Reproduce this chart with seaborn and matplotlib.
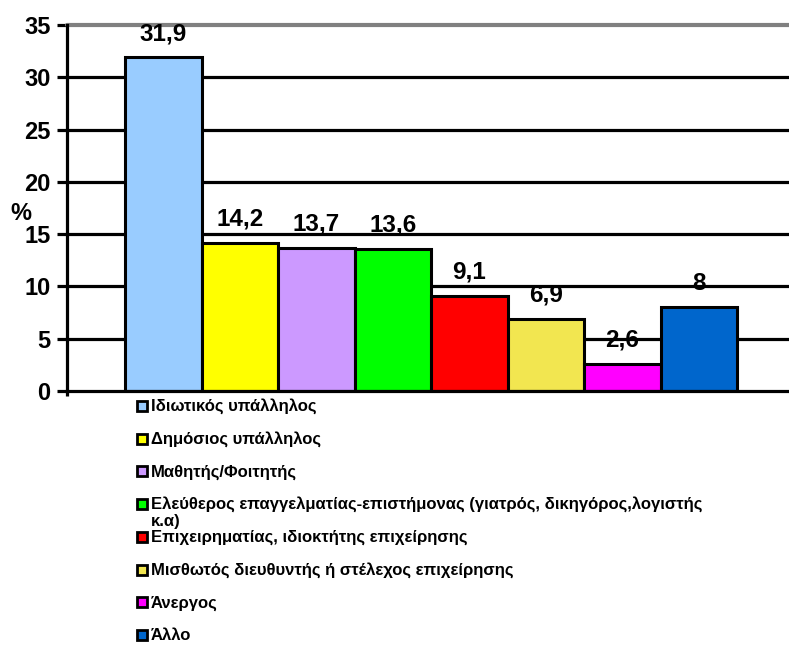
import matplotlib
matplotlib.use("Agg")
import matplotlib.pyplot as plt
from matplotlib.patches import Rectangle
import seaborn as sns
import pandas as pd

categories = [
    "Ιδιωτικός υπάλληλος",
    "Δημόσιος υπάλληλος",
    "Μαθητής/Φοιτητής",
    "Ελεύθερος επαγγελματίας-επιστήμονας (γιατρός, δικηγόρος,λογιστής\nκ.α)",
    "Επιχειρηματίας, ιδιοκτήτης επιχείρησης",
    "Μισθωτός διευθυντής ή στέλεχος επιχείρησης",
    "Άνεργος",
    "Άλλο",
]
values = [31.9, 14.2, 13.7, 13.6, 9.1, 6.9, 2.6, 8]
value_labels = ["31,9", "14,2", "13,7", "13,6", "9,1", "6,9", "2,6", "8"]
colors = ["#99CCFF", "#FFFF00", "#CC99FF", "#00FF00",
          "#FF0000", "#F2E650", "#FF00FF", "#0066CC"]
y_ticks = [0, 5, 10, 15, 20, 25, 30, 35]

sns.set_style("white")
plt.rcParams["font.family"] = ["Liberation Sans", "DejaVu Sans"]
plt.rcParams["font.weight"] = "bold"
plt.rcParams["text.color"] = "black"
plt.rcParams["ytick.labelcolor"] = "black"

W, H = 789, 647
fig = plt.figure(figsize=(W / 100, H / 100), dpi=100)
ax = fig.add_axes([67 / W, 1 - 391 / H, 1 - 67 / W, (391 - 25) / H])

df = pd.DataFrame({"cat": categories, "val": values})
sns.barplot(data=df, x="cat", y="val", hue="cat", order=categories,
            hue_order=categories, palette=colors, saturation=1, width=1.0,
            edgecolor="black", linewidth=2.2, legend=False, ax=ax,
            zorder=3)

ax.set_xlim(-1.26, 8.18)
ax.set_ylim(0, 35)
ax.set_yticks(y_ticks)
ax.set_yticklabels([str(t) for t in y_ticks], fontsize=17, fontweight="bold",
                   color="black")
ax.set_xticks([])
ax.set_xlabel("")
ax.set_ylabel("")

# horizontal gridlines: black, with a grey line at the top
for t in y_ticks[1:-1]:
    ax.axhline(t, color="black", lw=2.3, zorder=1)
ax.axhline(35, color="#808080", lw=3.0, zorder=1, clip_on=False)

for s in ["top", "right"]:
    ax.spines[s].set_visible(False)
for s in ["left", "bottom"]:
    ax.spines[s].set_linewidth(2.3)
    ax.spines[s].set_color("black")
    ax.spines[s].set_zorder(5)
ax.tick_params(axis="y", direction="out", length=7, width=2.3,
               color="black", pad=5, left=True)
# small extension of the value axis below zero
ax.plot([-1.26, -1.26], [0, -0.5], color="black", lw=2.3,
        clip_on=False, zorder=5, solid_capstyle="butt")

for i, (v, lab) in enumerate(zip(values, value_labels)):
    ax.annotate(lab, (i, v), xytext=(0, 17), textcoords="offset points",
                ha="center", va="center", fontsize=17.5, fontweight="bold",
                color="black", zorder=6)

fig.text(21 / W, 1 - 214 / H, "%", fontsize=17, fontweight="bold",
         ha="center", va="center")

# legend entries stacked below the plot, one row each
row0, row_step, wrap_step = 406, 32.7, 17
for k, (cat, col) in enumerate(zip(categories, colors)):
    y = row0 + k * row_step
    fig.patches.append(Rectangle((137 / W, 1 - (y + 5) / H), 10 / W, 10 / H,
                                 transform=fig.transFigure, facecolor=col,
                                 edgecolor="black", linewidth=2.0))
    for j, line in enumerate(cat.split("\n")):
        fig.text(151 / W, 1 - (y + 5 + j * wrap_step) / H, line,
                 fontsize=12, fontweight="bold", ha="left", va="baseline")

fig.savefig("out.png", dpi=100)
